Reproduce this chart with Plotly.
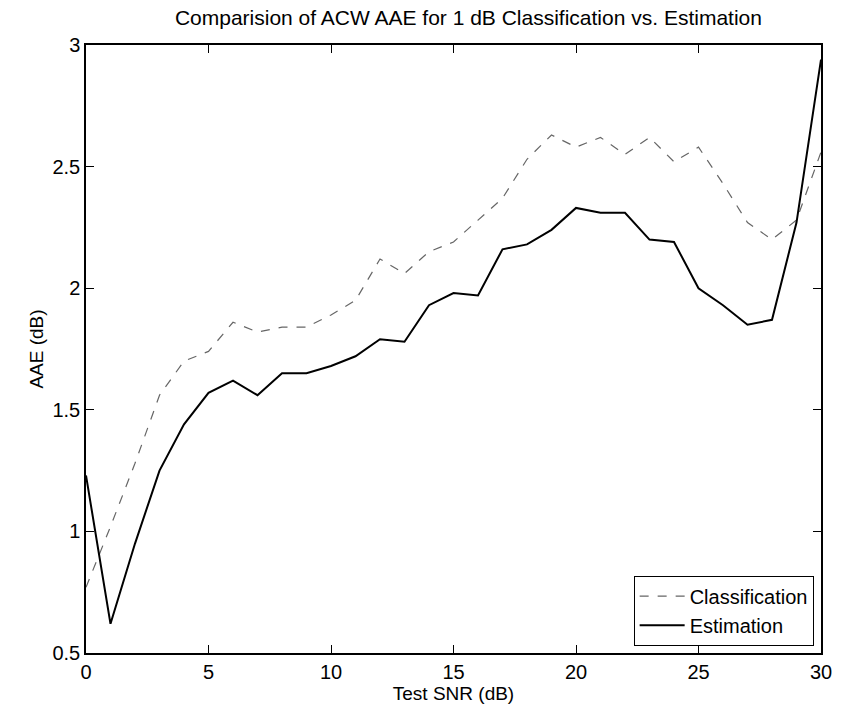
import plotly.graph_objects as go

snr = list(range(0, 31))
classification = [0.77, 1.02, 1.28, 1.56, 1.70, 1.74, 1.86, 1.82, 1.84, 1.84, 1.89,
                  1.95, 2.12, 2.06, 2.15, 2.19, 2.28, 2.37, 2.53, 2.63, 2.58,
                  2.62, 2.55, 2.62, 2.52, 2.58, 2.43, 2.27, 2.20, 2.28, 2.56]
estimation = [1.23, 0.62, 0.95, 1.25, 1.44, 1.57, 1.62, 1.56, 1.65, 1.65, 1.68,
              1.72, 1.79, 1.78, 1.93, 1.98, 1.97, 2.16, 2.18, 2.24, 2.33,
              2.31, 2.31, 2.20, 2.19, 2.00, 1.93, 1.85, 1.87, 2.27, 2.94]

x_ticks = [0, 5, 10, 15, 20, 25, 30]
y_ticks = [0.5, 1, 1.5, 2, 2.5, 3]
y_tick_labels = ["0.5", "1", "1.5", "2", "2.5", "3"]

FONT = "Liberation Sans Narrow, Liberation Sans, Arial, sans-serif"

fig = go.Figure()
fig.add_trace(go.Scatter(x=snr, y=classification, mode="lines", name="Classification",
                         line=dict(color="#666666", width=1.2, dash="dash")))
fig.add_trace(go.Scatter(x=snr, y=estimation, mode="lines", name="Estimation",
                         line=dict(color="black", width=2)))

axis_common = dict(showline=True, linecolor="black", linewidth=1.5, mirror="ticks",
                   ticks="inside", ticklen=8, tickcolor="black", showgrid=False,
                   zeroline=False, tickfont=dict(size=20, color="black", family=FONT))

fig.update_layout(
    width=844, height=720,
    margin=dict(l=86, r=13, t=45, b=67),
    paper_bgcolor="white", plot_bgcolor="white",
    font=dict(family=FONT, color="black"),
    title=dict(text="Comparision of ACW AAE for 1 dB Classification vs. Estimation",
               x=0.555, xanchor="center", y=0.975, yanchor="middle",
               font=dict(size=21, color="black", family=FONT)),
    xaxis=dict(range=[0, 30], tickvals=x_ticks,
               title=dict(text="Test SNR (dB)", font=dict(size=19, family=FONT), standoff=2),
               **axis_common),
    yaxis=dict(range=[0.5, 3], tickvals=y_ticks, ticktext=y_tick_labels,
               title=dict(text="AAE (dB)", font=dict(size=19, family=FONT), standoff=4),
               **axis_common),
    legend=dict(x=0.99, xanchor="right", y=0.012, yanchor="bottom",
                bordercolor="black", borderwidth=1, bgcolor="white",
                font=dict(size=20, family=FONT), itemwidth=45, tracegroupgap=0),
    showlegend=True,
)

fig.write_html("out.html")
